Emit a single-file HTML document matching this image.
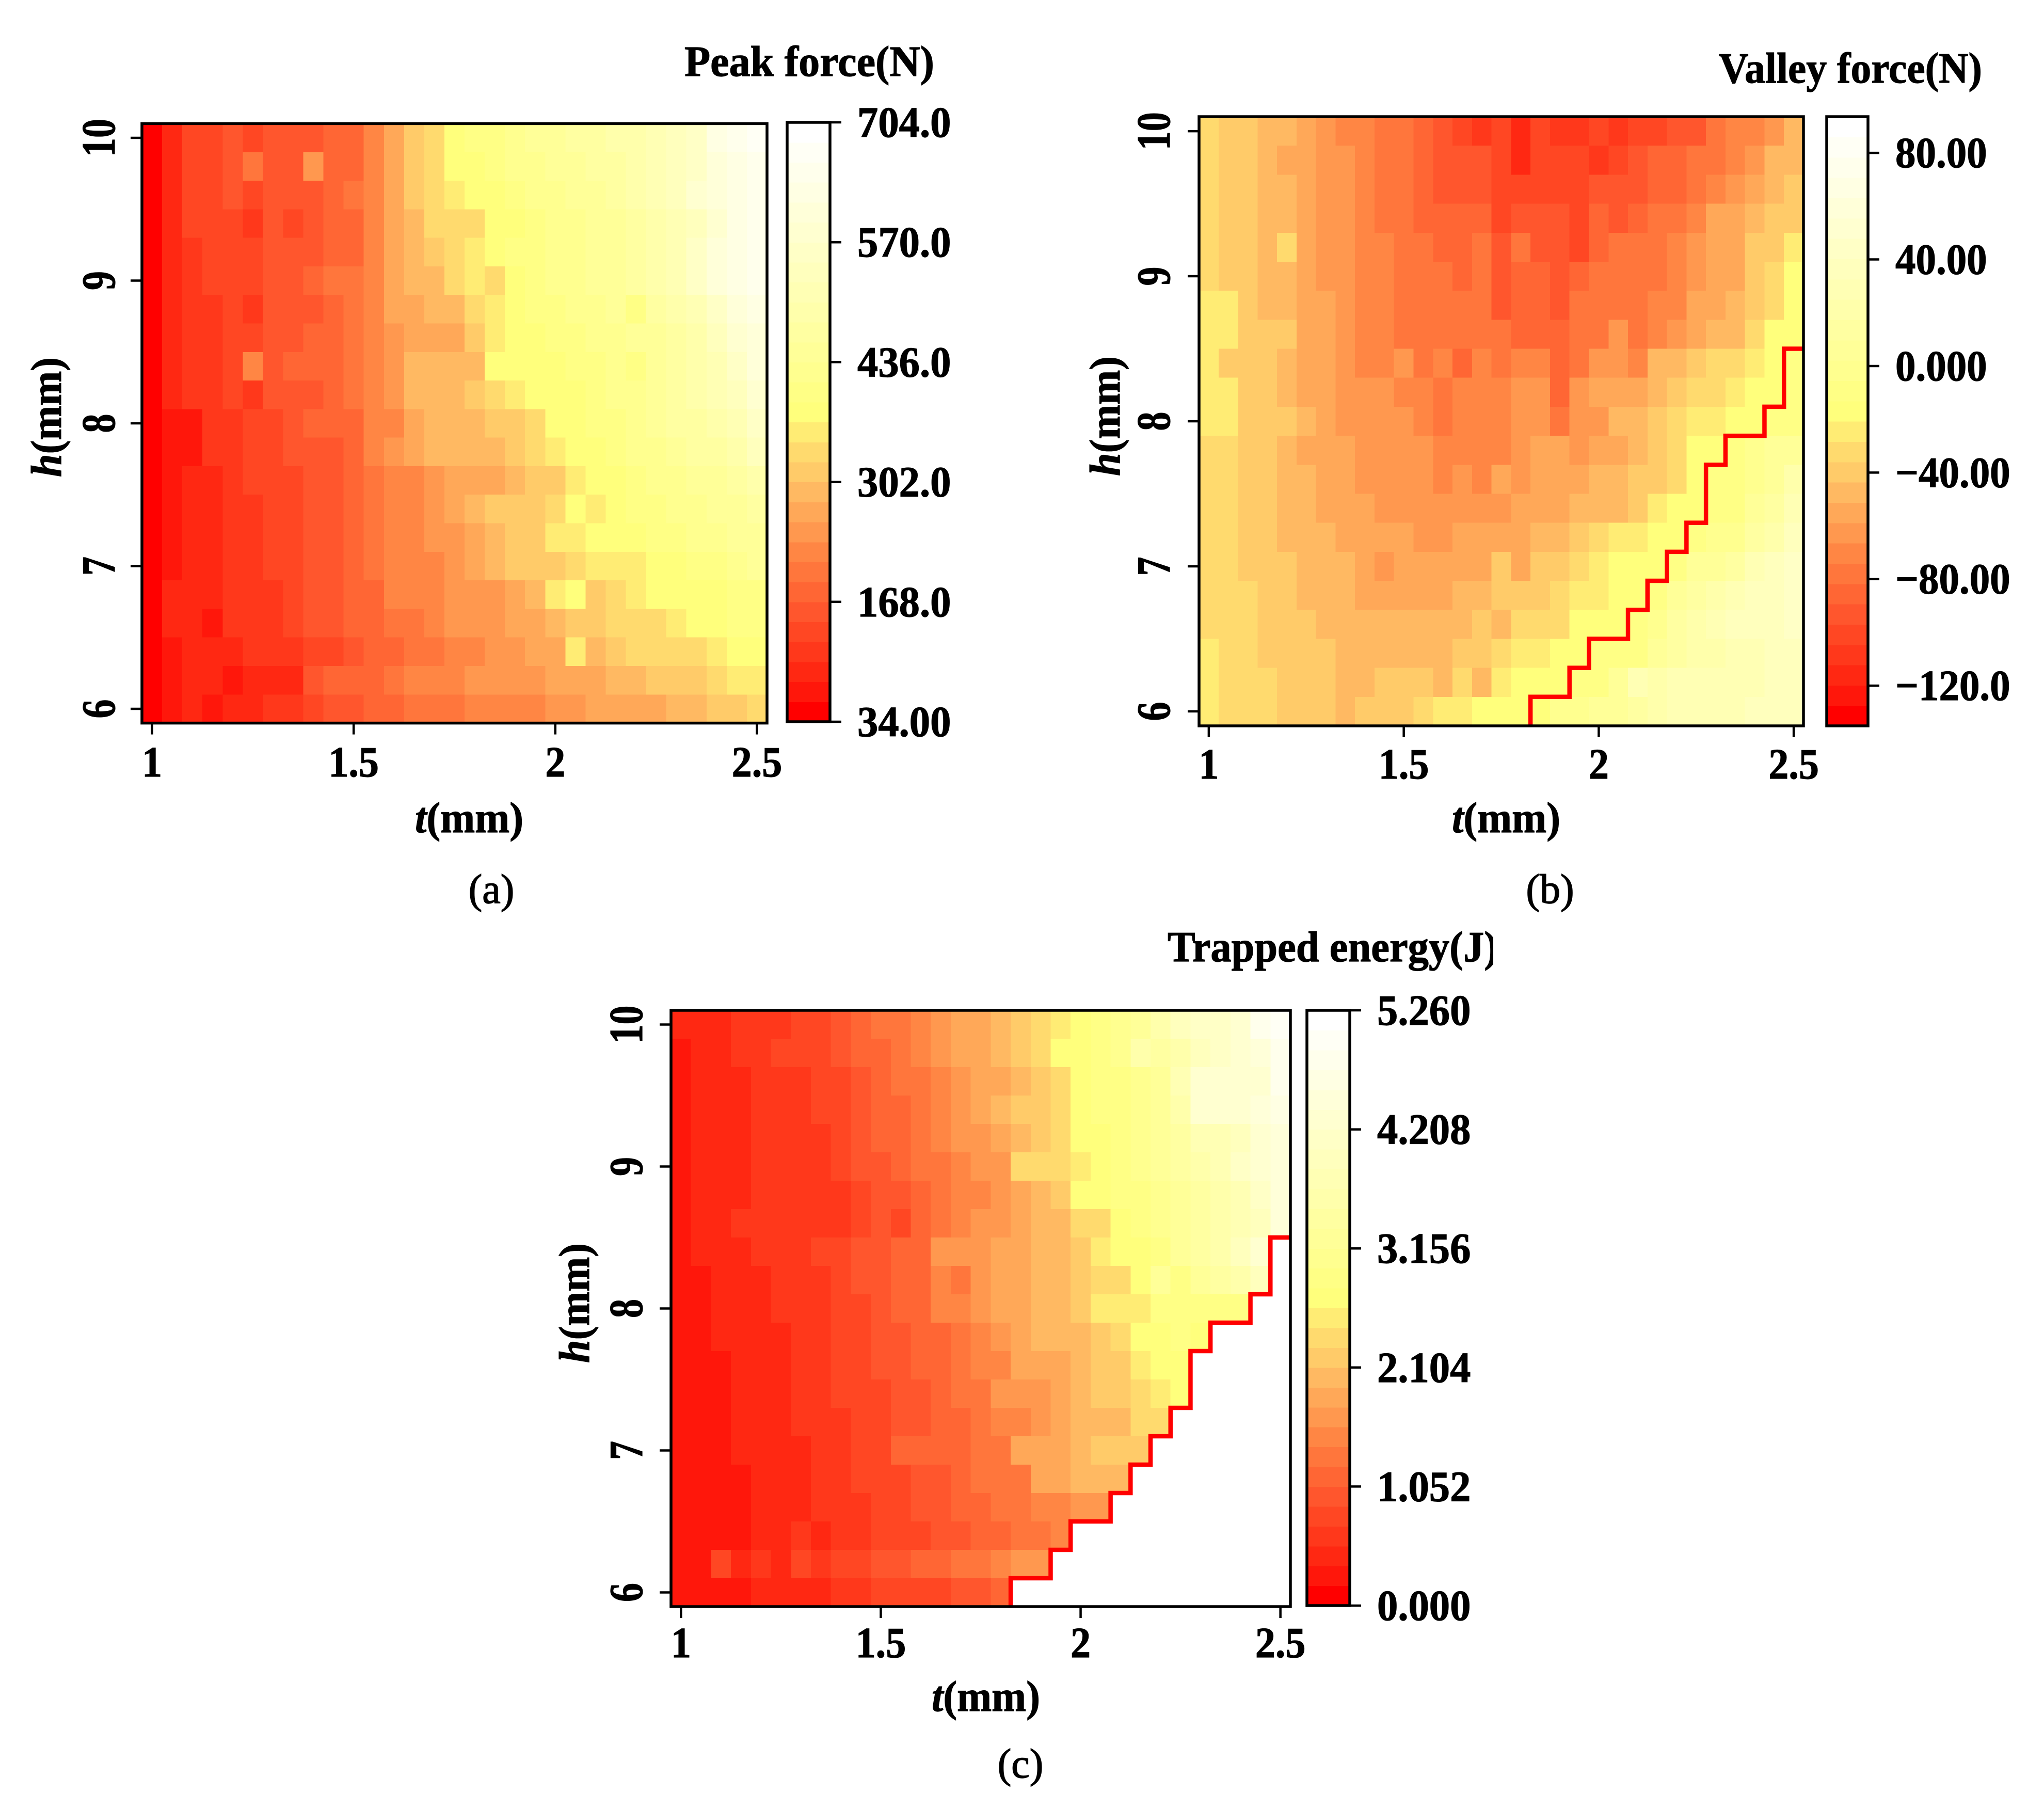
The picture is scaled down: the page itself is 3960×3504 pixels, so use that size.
<!DOCTYPE html>
<html lang="en">
<head>
<meta charset="utf-8">
<title>Peak force, valley force and trapped energy heatmaps</title>
<style>
html,body{margin:0;padding:0;background:#fff;}
svg{display:block;}
text{font-family:"Liberation Serif",serif;fill:#000;}
.lab{font-weight:bold;font-size:84px;stroke:#000;stroke-width:1.2px;}
.cap{font-weight:normal;font-size:80px;stroke:#000;stroke-width:1.4px;}
</style>
</head>
<body>
<svg id="figure" xmlns="http://www.w3.org/2000/svg" width="3960" height="3504" viewBox="0 0 3960 3504">
<rect width="3960" height="3504" fill="#fff"/>
<clipPath id="title-c-clip"><rect x="2200" y="1780" width="693" height="120"/></clipPath>
<g id="panel-a"></g>
<g id="panel-b"></g>
<g id="panel-c"></g>

<text class="lab" x="1326" y="147" textLength="484" lengthAdjust="spacingAndGlyphs">Peak force(N)</text>
<text class="lab" x="3330" y="160" textLength="510" lengthAdjust="spacingAndGlyphs">Valley force(N)</text>
<g clip-path="url(#title-c-clip)"><text class="lab" x="2262" y="1862" textLength="640" lengthAdjust="spacingAndGlyphs">Trapped energy(J)</text></g>

<text class="lab" x="909" y="1612" text-anchor="middle" textLength="210" lengthAdjust="spacingAndGlyphs"><tspan font-style="italic">t</tspan>(mm)</text>
<text class="lab" x="2918" y="1612" text-anchor="middle" textLength="210" lengthAdjust="spacingAndGlyphs"><tspan font-style="italic">t</tspan>(mm)</text>
<text class="lab" x="1910" y="3314" text-anchor="middle" textLength="210" lengthAdjust="spacingAndGlyphs"><tspan font-style="italic">t</tspan>(mm)</text>

<text class="lab" transform="rotate(-90 118 808)" x="118" y="808" text-anchor="middle" textLength="232" lengthAdjust="spacingAndGlyphs"><tspan font-style="italic">h</tspan>(mm)</text>
<text class="lab" transform="rotate(-90 2169 806)" x="2169" y="806" text-anchor="middle" textLength="232" lengthAdjust="spacingAndGlyphs"><tspan font-style="italic">h</tspan>(mm)</text>
<text class="lab" transform="rotate(-90 1141 2524)" x="1141" y="2524" text-anchor="middle" textLength="232" lengthAdjust="spacingAndGlyphs"><tspan font-style="italic">h</tspan>(mm)</text>

<text class="cap" x="952" y="1749" text-anchor="middle">(a)</text>
<text class="cap" x="3003" y="1749" text-anchor="middle">(b)</text>
<text class="cap" x="1977" y="3443" text-anchor="middle">(c)</text>
</svg>

<script>
var tValues = [1,1.05,1.1,1.15,1.2,1.25,1.3,1.35,1.4,1.45,1.5,1.55,1.6,1.65,1.7,1.75,1.8,1.85,1.9,1.95,2,2.05,2.1,2.15,2.2,2.25,2.3,2.35,2.4,2.45,2.5];
var hValues = [10,9.8,9.6,9.4,9.2,9,8.8,8.6,8.4,8.2,8,7.8,7.6,7.4,7.2,7,6.8,6.6,6.4,6.2,6];

var xTickValues = [1,1.5,2,2.5];
var xTickLabels = ['1','1.5','2','2.5'];
var yTickValues = [6,7,8,9,10];
var yTickLabels = ['6','7','8','9','10'];

var peakForce = [
[45,90,135,135,157,135,157,157,157,179,179,224,269,313,336,380,403,403,425,447,447,470,470,492,492,514,537,559,626,648,671],
[45,90,135,135,157,202,157,157,246,179,179,224,269,313,336,380,380,403,425,425,447,447,470,470,492,514,537,559,604,626,648],
[45,90,135,135,157,135,157,157,157,179,202,224,269,313,336,358,380,380,403,425,425,447,447,470,492,514,537,581,604,626,648],
[45,90,135,135,135,112,157,135,157,179,179,224,269,291,336,336,336,380,380,403,425,425,447,447,470,492,514,537,581,626,648],
[45,90,112,135,135,135,157,157,157,179,179,224,269,291,313,336,358,380,403,403,425,425,447,447,470,492,514,559,604,626,648],
[45,90,112,135,135,135,157,157,179,202,202,224,269,291,291,336,358,336,380,403,425,425,447,447,470,492,514,559,604,626,648],
[45,90,112,112,135,112,157,157,157,179,202,224,269,269,291,291,336,358,380,403,403,425,425,447,403,470,492,514,559,604,626],
[45,90,112,112,135,135,157,157,179,179,202,224,246,269,269,269,313,358,380,380,403,403,425,425,447,447,470,492,537,581,604],
[45,90,112,112,135,224,157,179,179,179,202,224,246,291,291,291,291,380,380,380,380,403,403,425,403,447,470,492,514,559,604],
[45,90,112,112,135,112,157,157,157,179,202,224,246,291,291,291,313,336,358,380,380,380,403,425,425,447,470,492,514,537,581],
[45,68,68,112,112,135,135,157,179,179,179,224,224,269,291,291,291,313,313,336,380,380,403,403,425,447,470,470,492,514,559],
[45,68,68,112,112,135,135,157,157,157,179,224,246,269,291,291,291,291,313,336,358,380,380,403,425,425,447,470,470,492,537],
[45,68,90,90,112,135,135,135,157,157,179,202,224,224,246,269,269,269,291,313,313,358,380,380,403,425,425,447,447,470,492],
[45,68,90,90,112,112,135,135,157,157,179,202,224,224,246,269,291,313,313,313,336,380,358,380,403,403,425,425,447,447,470],
[45,68,90,90,112,112,135,135,157,157,179,202,224,224,246,246,269,291,313,313,358,358,380,380,380,403,403,425,425,447,447],
[45,68,90,90,112,112,135,135,157,157,179,202,224,224,224,246,269,291,313,313,313,336,358,358,358,380,380,403,403,425,447],
[45,90,90,90,112,112,112,135,157,157,179,179,224,224,224,246,246,246,269,291,358,380,313,336,358,380,380,380,380,403,403],
[45,90,90,68,112,112,112,135,157,157,179,179,202,202,224,246,246,246,269,269,291,313,313,336,336,336,358,380,380,403,403],
[45,68,90,90,90,112,112,112,135,135,157,179,179,202,202,224,224,246,246,269,269,358,291,313,336,336,336,336,358,380,380],
[45,68,90,90,68,90,90,90,157,179,179,179,202,224,224,224,246,246,246,246,269,269,269,291,291,313,313,313,336,358,358],
[45,68,90,68,90,90,112,112,135,157,157,179,179,202,202,202,224,224,224,224,246,246,269,269,269,269,291,291,313,313,336]
];

var valleyForce = [
[-32,-40,-40,-47,-47,-55,-63,-70,-70,-78,-78,-86,-93,-101,-108,-101,-116,-101,-108,-108,-101,-108,-101,-101,-93,-93,-78,-70,-70,-63,-47],
[-32,-40,-40,-47,-55,-55,-63,-63,-70,-78,-78,-86,-93,-93,-93,-101,-116,-101,-101,-101,-108,-101,-93,-86,-86,-78,-78,-70,-63,-47,-47],
[-32,-40,-40,-47,-47,-55,-63,-63,-70,-78,-78,-86,-93,-93,-93,-101,-101,-101,-101,-101,-93,-93,-93,-86,-86,-78,-70,-63,-55,-47,-40],
[-32,-40,-40,-47,-47,-55,-63,-63,-70,-78,-78,-86,-86,-86,-86,-101,-93,-93,-93,-101,-86,-93,-86,-78,-78,-70,-55,-55,-47,-40,-40],
[-32,-40,-40,-47,-32,-55,-63,-63,-70,-70,-78,-78,-86,-86,-78,-93,-78,-93,-93,-101,-86,-78,-78,-78,-70,-63,-55,-55,-40,-40,-24],
[-32,-40,-40,-47,-47,-55,-63,-63,-70,-70,-78,-78,-78,-86,-78,-93,-86,-86,-93,-86,-78,-78,-78,-78,-70,-63,-55,-55,-40,-32,-17],
[-24,-24,-40,-47,-47,-55,-55,-63,-70,-70,-78,-78,-78,-78,-78,-93,-86,-86,-93,-78,-78,-78,-78,-70,-70,-55,-55,-47,-40,-32,-17],
[-24,-24,-40,-40,-40,-55,-55,-63,-70,-70,-78,-78,-78,-78,-78,-78,-86,-86,-86,-78,-78,-63,-78,-70,-63,-55,-47,-47,-32,-17,-17],
[-24,-40,-40,-40,-47,-55,-55,-63,-70,-70,-63,-78,-70,-86,-70,-78,-70,-70,-86,-78,-63,-63,-70,-47,-47,-40,-32,-32,-24,-17,-9],
[-24,-24,-40,-40,-47,-55,-55,-63,-63,-63,-70,-70,-78,-70,-70,-70,-63,-63,-86,-63,-55,-55,-55,-47,-40,-32,-32,-24,-17,-17,-9],
[-24,-24,-40,-40,-40,-47,-55,-63,-63,-63,-63,-70,-78,-70,-70,-70,-63,-63,-78,-63,-63,-47,-47,-40,-32,-24,-24,-17,-17,-9,-9],
[-32,-32,-40,-40,-47,-55,-55,-55,-63,-63,-63,-63,-70,-70,-70,-70,-63,-55,-55,-63,-55,-55,-47,-40,-32,-17,-17,-9,-2,6,6],
[-32,-32,-40,-40,-47,-47,-55,-55,-63,-63,-63,-63,-70,-63,-70,-55,-63,-55,-55,-55,-47,-47,-40,-40,-32,-17,-9,-9,-2,6,21],
[-32,-32,-40,-40,-47,-47,-55,-55,-55,-63,-63,-63,-63,-63,-63,-63,-55,-55,-55,-47,-47,-47,-40,-24,-17,-17,-9,-9,6,14,29],
[-32,-32,-40,-40,-47,-47,-47,-55,-55,-55,-55,-63,-63,-55,-55,-55,-55,-47,-47,-40,-32,-24,-24,-17,-17,-9,-2,-2,14,21,37],
[-32,-32,-40,-40,-40,-47,-47,-47,-55,-63,-55,-55,-55,-55,-55,-40,-55,-40,-40,-32,-24,-17,-17,-17,-9,6,6,14,29,37,44],
[-32,-32,-32,-40,-40,-47,-47,-47,-55,-55,-55,-55,-55,-47,-47,-40,-40,-40,-32,-24,-24,-17,-17,-9,6,14,21,29,37,37,44],
[-32,-32,-32,-40,-40,-40,-47,-47,-47,-47,-47,-47,-47,-47,-40,-47,-32,-32,-32,-17,-17,-17,-9,-2,14,21,29,37,37,37,44],
[-24,-32,-32,-40,-40,-40,-40,-47,-47,-47,-47,-47,-47,-40,-40,-32,-24,-24,-17,-17,-9,-9,-9,6,14,21,21,29,29,37,37],
[-24,-32,-32,-32,-40,-40,-40,-47,-47,-40,-40,-40,-47,-32,-47,-24,-17,-17,-17,-9,-9,6,29,21,29,29,29,29,29,37,37],
[-24,-32,-32,-32,-40,-40,-40,-47,-40,-40,-40,-32,-24,-24,-17,-17,-17,-17,-2,-2,6,6,14,21,29,29,29,29,37,37,37]
];

var trappedEnergy = [
[.4,.4,.4,.6,.6,.6,.8,.8,1,1.1,1.3,1.3,1.5,1.7,1.8,1.8,2,2.2,2.4,2.5,2.7,2.9,3.1,3.2,3.6,3.9,4.1,4.1,4.3,4.8,5],
[.3,.4,.4,.6,.6,.8,.8,.8,1,1.1,1.1,1.3,1.5,1.7,1.8,1.8,2,2.2,2.4,2.7,2.7,2.9,3.1,3.6,3.4,3.6,3.9,4.1,4.3,4.5,4.8],
[.3,.4,.4,.4,.6,.6,.6,.8,.8,1,1.1,1.3,1.3,1.5,1.7,1.8,1.8,2,2.2,2.4,2.7,2.9,2.9,3.1,3.2,3.8,4.3,4.3,4.3,4.3,4.8],
[.3,.4,.4,.4,.6,.6,.6,.8,.8,1,1.1,1.1,1.3,1.5,1.7,1.8,2,2.2,2.2,2.4,2.7,2.9,2.9,3.1,3.2,3.6,4.3,4.3,4.3,4.5,4.6],
[.3,.4,.4,.4,.6,.6,.6,.6,.8,1,1.1,1.1,1.3,1.5,1.7,1.7,1.8,2,2.2,2.4,2.7,2.7,2.9,3.1,3.2,3.4,3.8,3.8,3.9,4.3,4.5],
[.3,.4,.4,.4,.6,.6,.6,.6,.8,1,1,1.1,1.3,1.3,1.5,1.7,1.7,2.4,2.4,2.4,2.5,2.7,2.9,3.1,3.2,3.4,3.6,3.8,4.1,4.3,4.5],
[.3,.4,.4,.4,.6,.6,.6,.6,.6,.8,1,1,1.1,1.3,1.5,1.5,1.7,1.8,2,2.2,2.7,2.7,2.9,2.9,3.1,3.2,3.4,3.6,3.8,4.1,4.5],
[.3,.4,.4,.6,.6,.6,.6,.6,.6,.8,1,.8,1.1,1.3,1.5,1.7,1.7,1.8,2,2,2.4,2.4,2.7,2.9,3.1,3.2,3.4,3.6,3.8,3.9,4.5],
[.3,.4,.4,.4,.6,.6,.6,.8,.8,1,1,1.1,1.1,1.7,1.7,1.7,1.8,1.8,2,2,2.2,2.5,2.7,2.7,2.9,3.2,3.4,3.6,3.9,4.3],
[.3,.3,.4,.4,.4,.6,.6,.6,.8,1,1,1.1,1.1,1.5,1.3,1.7,1.8,1.8,2,2,2.2,2.4,2.4,2.7,3.2,2.9,3.2,3.4,3.6,3.9],
[.3,.3,.4,.4,.4,.6,.6,.6,.8,.8,1,1.1,1.1,1.5,1.5,1.7,1.8,1.8,2,2,2.2,2.5,2.5,2.5,2.9,2.9,2.9,2.9,2.9],
[.3,.3,.4,.4,.4,.4,.6,.6,.8,.8,1,1,1.1,1.1,1.3,1.5,1.7,1.8,2,2,2,2.2,2.4,2.7,2.7,2.9,2.7],
[.3,.3,.3,.4,.4,.4,.6,.6,.8,.8,1,1,1.1,1.1,1.3,1.5,1.5,1.8,1.8,1.8,2,2.2,2.2,2.5,2.7,2.7],
[.3,.3,.3,.4,.4,.4,.6,.6,.8,.8,.8,1,1,1.1,1.3,1.3,1.7,1.7,1.7,1.8,2,2.2,2.2,2.4,2.5,2.7],
[.3,.3,.3,.4,.4,.4,.6,.6,.6,.8,.8,1,1,1.1,1.1,1.3,1.5,1.5,1.7,1.8,2,2,2,2.4,2.4],
[.3,.3,.3,.4,.4,.4,.4,.6,.6,.8,.8,1.1,1.1,1.1,1.1,1.3,1.3,1.8,1.8,1.8,2,2.2,2.2,2.2],
[.3,.3,.3,.3,.4,.4,.4,.6,.6,.8,.8,.8,1,1,1.1,1.3,1.3,1.3,1.8,1.8,2,2,2],
[.3,.3,.3,.3,.4,.4,.4,.6,.6,.6,.8,.8,1,1,1.1,1.1,1.3,1.3,1.5,1.5,1.7,1.7],
[.3,.3,.3,.3,.4,.4,.6,.4,.6,.6,.8,.8,.8,1,1,1.1,1.1,1.3,1.3,1.5],
[.3,.3,.8,.4,.6,.4,.8,.6,.8,.8,1,1,1.1,1.1,1.3,1.3,1.5,1.7,1.7],
[.3,.3,.3,.3,.4,.4,.4,.4,.6,.6,.8,.8,.8,.8,1,1,1.1]
];

// number of grid rows (counted from h=6 upward) lying under the red boundary, per t column
var boundaryRows = [0,0,0,0,0,0,0,0,0,0,0,0,0,0,0,0,0,1,1,2,3,3,4,5,6,7,9,10,10,11,13];

var peakTickValues = [34,168,302,436,570,704];
var peakTickLabels = ['34.00','168.0','302.0','436.0','570.0','704.0'];
var valleyTickValues = [-120,-80,-40,0,40,80];
var valleyTickLabels = ['\u2212120.0','\u221280.00','\u221240.00','0.000','40.00','80.00'];
var energyTickValues = [0,1.052,2.104,3.156,4.208,5.26];
var energyTickLabels = ['0.000','1.052','2.104','3.156','4.208','5.260'];

var palette = ['#ff0000','#ff170b','#ff2812','#ff381b','#ff4723','#ff562d','#ff6634','#ff763c','#ff8644','#ff984f','#ffa858','#ffb962','#ffcb69','#ffda6e','#ffec74','#ffff7c','#ffff85','#ffff8f','#ffff98','#ffffa1','#ffffab','#ffffb4','#ffffbd','#ffffc6','#ffffd0','#ffffd9','#ffffe3','#ffffec','#fffff5','#ffffff'];

var NS = 'http://www.w3.org/2000/svg';

function make(tag, attrs) {
  var el = document.createElementNS(NS, tag);
  for (var k in attrs) { el.setAttribute(k, attrs[k]); }
  return el;
}

function textWidth(s, factor) {
  var w = 0;
  for (var i = 0; i < s.length; i++) {
    var c = s.charAt(i);
    w += (c === '.') ? 0.25 : (c === '\u2212') ? 0.57 : 0.5;
  }
  return w * 84 * factor;
}

function drawPanel(cfg) {
  var g = document.getElementById(cfg.id);
  var colW = (cfg.x1 - cfg.x0) / tValues.length;
  var rowH = (cfg.y1 - cfg.y0) / hValues.length;
  var tMin = tValues[0], tMax = tValues[tValues.length - 1];
  var hMin = hValues[hValues.length - 1], hMax = hValues[0];
  function xScale(t) { return cfg.x0 + colW / 2 + (t - tMin) / (tMax - tMin) * (cfg.x1 - cfg.x0 - colW); }
  function yScale(h) { return cfg.y1 - rowH / 2 - (h - hMin) / (hMax - hMin) * (cfg.y1 - cfg.y0 - rowH); }
  function levelOf(v) {
    var l = Math.floor((v - cfg.vMin) / (cfg.vMax - cfg.vMin) * palette.length);
    return Math.max(0, Math.min(palette.length - 1, l));
  }
  function barY(v) { return cfg.barBottom - (v - cfg.vMin) / (cfg.vMax - cfg.vMin) * (cfg.barBottom - cfg.barTop); }

  // heatmap cells
  cfg.values.forEach(function (row, r) {
    row.forEach(function (v, c) {
      if (v === null || v === undefined) { return; }
      var cell = make('rect', {
        x: xScale(tValues[c]) - colW / 2,
        y: yScale(hValues[r]) - rowH / 2,
        width: colW + 0.6,
        height: rowH + 0.6,
        fill: palette[levelOf(v)],
        'shape-rendering': 'crispEdges'
      });
      
      
      g.appendChild(cell);
    });
  });

  // boundary staircase
  if (cfg.boundary) {
    var d = '';
    cfg.boundary.forEach(function (b, c) {
      if (b === 0) { return; }
      var left = xScale(tValues[c]) - colW / 2;
      var right = left + colW;
      var top = cfg.y1 - b * rowH;
      if (d === '') { d = 'M' + left + ' ' + cfg.y1; }
      d += ' V' + top + ' H' + right;
    });
    var stair = make('path', { d: d, fill: 'none', stroke: '#ff0000', 'stroke-width': 8.5, 'stroke-linejoin': 'miter' });
    
    
    g.appendChild(stair);
  }

  // frame
  var frame = make('rect', { x: cfg.x0, y: cfg.y0, width: cfg.x1 - cfg.x0, height: cfg.y1 - cfg.y0, fill: 'none', stroke: '#000', 'stroke-width': 5.5 });
  
  
  g.appendChild(frame);

  // x ticks
  xTickValues.forEach(function (t, i) {
    var x = xScale(t);
    var tick = make('line', { x1: x, x2: x, y1: cfg.y1, y2: cfg.y1 + 22, stroke: '#000', 'stroke-width': 4.5 });
    
    
    g.appendChild(tick);
    var lab = make('text', { x: x, y: cfg.xLabelY, 'text-anchor': 'middle', 'class': 'lab', textLength: textWidth(xTickLabels[i], 0.93), lengthAdjust: 'spacingAndGlyphs' });
    
    
    lab.textContent = xTickLabels[i];
    g.appendChild(lab);
  });

  // y ticks
  yTickValues.forEach(function (h, i) {
    var y = yScale(h);
    var tick = make('line', { x1: cfg.x0 - 22, x2: cfg.x0, y1: y, y2: y, stroke: '#000', 'stroke-width': 4.5 });
    
    
    g.appendChild(tick);
    var lab = make('text', { x: cfg.yLabelX, y: y, 'text-anchor': 'middle', 'class': 'lab', style: 'font-size:92px', textLength: yTickLabels[i].length * 37, lengthAdjust: 'spacingAndGlyphs', transform: 'rotate(-90 ' + cfg.yLabelX + ' ' + y + ')' });
    
    
    lab.textContent = yTickLabels[i];
    g.appendChild(lab);
  });

  // colorbar
  var levelH = (cfg.barBottom - cfg.barTop) / palette.length;
  palette.forEach(function (col, i) {
    var seg = make('rect', { x: cfg.barLeft, y: cfg.barBottom - (i + 1) * levelH, width: cfg.barRight - cfg.barLeft, height: levelH + 0.6, fill: col, 'shape-rendering': 'crispEdges' });
    
    
    g.appendChild(seg);
  });
  var barFrame = make('rect', { x: cfg.barLeft, y: cfg.barTop, width: cfg.barRight - cfg.barLeft, height: cfg.barBottom - cfg.barTop, fill: 'none', stroke: '#000', 'stroke-width': 5.5 });
  
  
  g.appendChild(barFrame);
  cfg.tickValues.forEach(function (v, i) {
    var y = barY(v);
    var tick = make('line', { x1: cfg.barRight, x2: cfg.barRight + 22, y1: y, y2: y, stroke: '#000', 'stroke-width': 4.5 });
    
    
    g.appendChild(tick);
    var lab = make('text', { x: cfg.barLabelX, y: y + 28, 'class': 'lab', textLength: textWidth(cfg.tickLabels[i], cfg.barLabelFactor), lengthAdjust: 'spacingAndGlyphs' });
    
    
    lab.textContent = cfg.tickLabels[i];
    g.appendChild(lab);
  });
}

drawPanel({ id: 'panel-a', values: peakForce, boundary: null, vMin: 34, vMax: 704,
  tickValues: peakTickValues, tickLabels: peakTickLabels,
  x0: 275, x1: 1486, y0: 239.4, y1: 1400.6, xLabelY: 1504, yLabelX: 222,
  barLeft: 1525, barRight: 1608, barTop: 237, barBottom: 1398, barLabelX: 1661, barLabelFactor: 0.96 });
drawPanel({ id: 'panel-b', values: valleyForce, boundary: boundaryRows, vMin: -135.1, vMax: 93.6,
  tickValues: valleyTickValues, tickLabels: valleyTickLabels,
  x0: 2323, x1: 3494, y0: 226, y1: 1406, xLabelY: 1508, yLabelX: 2266,
  barLeft: 3539, barRight: 3619, barTop: 226, barBottom: 1406, barLabelX: 3672, barLabelFactor: 0.94 });
drawPanel({ id: 'panel-c', values: trappedEnergy, boundary: boundaryRows, vMin: 0, vMax: 5.26,
  tickValues: energyTickValues, tickLabels: energyTickLabels,
  x0: 1300, x1: 2500, y0: 1957, y1: 3112, xLabelY: 3210, yLabelX: 1244,
  barLeft: 2532, barRight: 2615, barTop: 1957, barBottom: 3110, barLabelX: 2668, barLabelFactor: 0.96 });
</script>
</body>
</html>
